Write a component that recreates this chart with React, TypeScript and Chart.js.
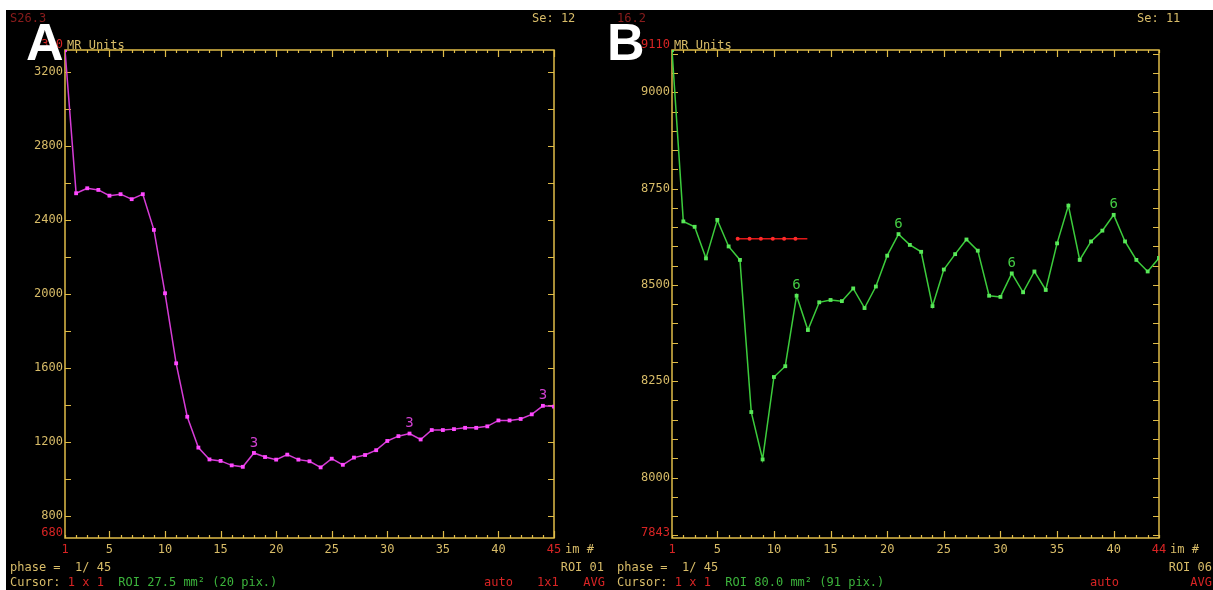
import React, { useEffect, useRef } from "react";
import { Chart, registerables } from "chart.js";

Chart.register(...registerables);

// ---------- data ----------
const imagesA = [1, 2, 3, 4, 5, 6, 7, 8, 9, 10, 11, 12, 13, 14, 15, 16, 17, 18, 19, 20, 21, 22, 23, 24, 25, 26, 27, 28, 29, 30, 31, 32, 33, 34, 35, 36, 37, 38, 39, 40, 41, 42, 43, 44, 45];
const signalA = [3320, 2545, 2572, 2563, 2532, 2540, 2513, 2540, 2347, 2004, 1625, 1336, 1169, 1105, 1097, 1073, 1065, 1140, 1118, 1104, 1131, 1104, 1095, 1062, 1109, 1076, 1115, 1129, 1155, 1205, 1231, 1245, 1213, 1264, 1264, 1269, 1276, 1276, 1284, 1316, 1316, 1324, 1349, 1395, 1391];

const imagesB = [1, 2, 3, 4, 5, 6, 7, 8, 9, 10, 11, 12, 13, 14, 15, 16, 17, 18, 19, 20, 21, 22, 23, 24, 25, 26, 27, 28, 29, 30, 31, 32, 33, 34, 35, 36, 37, 38, 39, 40, 41, 42, 43, 44];
const signalB = [9110, 8665, 8651, 8569, 8669, 8600, 8565, 8170, 8047, 8261, 8289, 8472, 8383, 8455, 8461, 8458, 8491, 8440, 8496, 8576, 8632, 8604, 8586, 8445, 8540, 8580, 8618, 8589, 8472, 8469, 8530, 8481, 8535, 8487, 8608, 8706, 8565, 8613, 8641, 8682, 8613, 8565, 8535, 8570];

const refLineX = [6.8, 7.85, 8.85, 9.9, 10.9, 11.9, 12.95];
const refLineY = [8620, 8620, 8620, 8620, 8620, 8620, 8620];

const xTicksA = [1, 5, 10, 15, 20, 25, 30, 35, 40, 45];
const yTicksA = [800, 1200, 1600, 2000, 2400, 2800, 3200];
const rangeA = [680, 3320];
const markedA = [18, 32, 44];

const xTicksB = [1, 5, 10, 15, 20, 25, 30, 35, 40, 44];
const yTicksB = [8000, 8250, 8500, 8750, 9000];
const rangeB = [7843, 9110];
const markedB = [12, 21, 31, 40];

// ---------- styles ----------
const MONO = "'DejaVu Sans Mono', 'Liberation Mono', monospace";
const YELLOW = "#d8bc68";
const AXIS = "#e0bc48";
const RED = "#d82424";
const DIMRED = "#8a1c1c";
const GREEN_TXT = "#3cb43c";

type Txt = { t: string; x: number; y: number; c: string; align?: CanvasTextAlign };
type Seg = { t: string; c: string };

type PanelCfg = {
  left: number;
  width: number;
  axisW: number;
  padRight: number;
  xs: number[];
  ys: number[];
  lineColor: string;
  pointColor: string;
  xMax: number;
  yRange: number[];
  xTicks: number[];
  yTicks: number[];
  yMinor: number;
  marks: number[];
  markText: string;
  markColor: string;
  letter: string;
  letterX: number;
  topLabel: string;
  bottomLabel: string;
  texts: Txt[];
  cursorX: number;
  cursor: Seg[];
  extra?: any[];
};

function drawText(ctx: CanvasRenderingContext2D, t: string, x: number, y: number, c: string, align: CanvasTextAlign = "left", font = `12px ${MONO}`) {
  ctx.save();
  ctx.font = font;
  ctx.fillStyle = c;
  ctx.textAlign = align;
  ctx.textBaseline = "middle";
  ctx.fillText(t, x, y);
  ctx.restore();
}

function makePlugin(cfg: PanelCfg) {
  return {
    id: "mrFrame" + cfg.letter,
    beforeDatasetsDraw(chart: any) {
      const { ctx, chartArea } = chart;
      const { left, right, top, bottom } = chartArea;
      const xs = chart.scales.x;
      const ys = chart.scales.y;
      ctx.save();
      ctx.strokeStyle = AXIS;
      ctx.lineWidth = 1.5;
      ctx.strokeRect(left, top, right - left, bottom - top);
      ctx.lineWidth = 1.2;
      ctx.beginPath();
      for (let v = 1; v <= cfg.xMax; v++) {
        const px = Math.round(xs.getPixelForValue(v)) + 0.5;
        const len = v % 5 === 0 ? 7 : 3;
        ctx.moveTo(px, top);
        ctx.lineTo(px, top + len);
        ctx.moveTo(px, bottom);
        ctx.lineTo(px, bottom - len);
      }
      const y0 = Math.ceil(cfg.yRange[0] / cfg.yMinor) * cfg.yMinor;
      for (let v = y0; v <= cfg.yRange[1]; v += cfg.yMinor) {
        const py = Math.round(ys.getPixelForValue(v)) + 0.5;
        ctx.moveTo(left, py);
        ctx.lineTo(left + 6, py);
        ctx.moveTo(right, py);
        ctx.lineTo(right - 6, py);
      }
      ctx.stroke();
      ctx.restore();
    },
    afterDraw(chart: any) {
      const { ctx, chartArea } = chart;
      const { left, right, top, bottom } = chartArea;
      drawText(ctx, cfg.topLabel, left - 2, top - 5, RED, "right");
      drawText(ctx, cfg.bottomLabel, left - 2, bottom - 5, RED, "right");
      drawText(ctx, "MR Units", left + 2, top - 4, YELLOW);
      drawText(ctx, "im #", right + 11, bottom + 12, YELLOW);
      const meta = chart.getDatasetMeta(0);
      cfg.marks.forEach((idx) => {
        const el = meta.data[idx - 1];
        if (el) drawText(ctx, cfg.markText, el.x, el.y - 10, cfg.markColor, "center", `14px ${MONO}`);
      });
      cfg.texts.forEach((t) => drawText(ctx, t.t, t.x, t.y, t.c, t.align || "left"));
      ctx.save();
      ctx.font = `12px ${MONO}`;
      let cx = cfg.cursorX;
      cfg.cursor.forEach((s) => {
        drawText(ctx, s.t, cx, 573, s.c);
        cx += ctx.measureText(s.t).width;
      });
      ctx.restore();
      ctx.save();
      ctx.font = "bold 52px 'Liberation Sans', Arial, sans-serif";
      ctx.fillStyle = "#ffffff";
      ctx.textAlign = "left";
      ctx.textBaseline = "alphabetic";
      ctx.fillText(cfg.letter, cfg.letterX, 50);
      ctx.restore();
    },
  };
}

function Panel({ cfg }: { cfg: PanelCfg }) {
  const ref = useRef<HTMLCanvasElement>(null);
  useEffect(() => {
    const last = cfg.xTicks.length - 1;
    const chart = new Chart(ref.current as HTMLCanvasElement, {
      type: "line",
      data: {
        datasets: [
          {
            data: cfg.xs.map((x, i) => ({ x, y: cfg.ys[i] })),
            borderColor: cfg.lineColor,
            borderWidth: 1.5,
            pointStyle: "rect",
            pointRadius: 2.7,
            pointBorderWidth: 0,
            pointBackgroundColor: cfg.pointColor,
            tension: 0,
          },
          ...(cfg.extra || []),
        ],
      },
      options: {
        responsive: false,
        animation: false,
        devicePixelRatio: 1,
        events: [],
        layout: { padding: { top: 40, right: cfg.padRight, left: 0, bottom: 0 } },
        plugins: { legend: { display: false }, tooltip: { enabled: false } },
        scales: {
          x: {
            type: "linear",
            min: 1,
            max: cfg.xMax,
            grid: { display: false, drawTicks: false },
            border: { display: false },
            afterBuildTicks: (s: any) => {
              s.ticks = cfg.xTicks.map((v) => ({ value: v }));
            },
            afterFit: (s: any) => {
              s.height = 52;
            },
            ticks: {
              autoSkip: false,
              maxRotation: 0,
              padding: 5,
              font: { family: MONO, size: 12 },
              color: (c: any) => (c.index === 0 || c.index === last ? RED : YELLOW),
              callback: (v: any) => String(v),
            },
          },
          y: {
            type: "linear",
            position: "left",
            min: cfg.yRange[0],
            max: cfg.yRange[1],
            grid: { display: false, drawTicks: false },
            border: { display: false },
            afterBuildTicks: (s: any) => {
              s.ticks = cfg.yTicks.map((v) => ({ value: v }));
            },
            afterFit: (s: any) => {
              s.width = cfg.axisW;
            },
            ticks: {
              padding: 2,
              font: { family: MONO, size: 12 },
              color: YELLOW,
              callback: (v: any) => String(v),
            },
          },
        },
      },
      plugins: [makePlugin(cfg)],
    } as any);
    return () => chart.destroy();
  }, []);
  return (
    <div style={{ position: "absolute", left: cfg.left, top: 10, width: cfg.width, height: 580, background: "#000" }}>
      <canvas ref={ref} width={cfg.width} height={580} style={{ display: "block" }} />
    </div>
  );
}

const panelA: PanelCfg = {
  left: 6,
  width: 599,
  axisW: 59,
  padRight: 51,
  xs: imagesA,
  ys: signalA,
  lineColor: "#d63cd6",
  pointColor: "#ff48ff",
  xMax: 45,
  yRange: rangeA,
  xTicks: xTicksA,
  yTicks: yTicksA,
  yMinor: 200,
  marks: markedA,
  markText: "3",
  markColor: "#d040d0",
  letter: "A",
  letterX: 20,
  topLabel: String(rangeA[1]),
  bottomLabel: String(rangeA[0]),
  texts: [
    { t: "S26.3", x: 4, y: 9, c: DIMRED },
    { t: "Se: 12", x: 526, y: 9, c: YELLOW },
    { t: "phase =  1/ 45", x: 4, y: 558, c: YELLOW },
    { t: "ROI 01", x: 598, y: 558, c: YELLOW, align: "right" },
    { t: "auto", x: 478, y: 573, c: RED },
    { t: "1x1", x: 531, y: 573, c: RED },
    { t: "AVG", x: 599, y: 573, c: RED, align: "right" },
  ],
  cursorX: 4,
  cursor: [
    { t: "Cursor: ", c: YELLOW },
    { t: "1 x 1", c: RED },
    { t: "  ROI 27.5 mm² (20 pix.)", c: GREEN_TXT },
  ],
};

const panelB: PanelCfg = {
  left: 605,
  width: 608,
  axisW: 67,
  padRight: 54,
  xs: imagesB,
  ys: signalB,
  lineColor: "#3ccc3c",
  pointColor: "#58e858",
  xMax: 44,
  yRange: rangeB,
  xTicks: xTicksB,
  yTicks: yTicksB,
  yMinor: 50,
  marks: markedB,
  markText: "6",
  markColor: "#44cc44",
  letter: "B",
  letterX: 2,
  topLabel: String(rangeB[1]),
  bottomLabel: String(rangeB[0]),
  texts: [
    { t: "16.2", x: 12, y: 9, c: DIMRED },
    { t: "Se: 11", x: 532, y: 9, c: YELLOW },
    { t: "phase =  1/ 45", x: 12, y: 558, c: YELLOW },
    { t: "ROI 06", x: 607, y: 558, c: YELLOW, align: "right" },
    { t: "auto", x: 485, y: 573, c: RED },
    { t: "AVG", x: 607, y: 573, c: RED, align: "right" },
  ],
  cursorX: 12,
  cursor: [
    { t: "Cursor: ", c: YELLOW },
    { t: "1 x 1", c: RED },
    { t: "  ROI 80.0 mm² (91 pix.)", c: GREEN_TXT },
  ],
  extra: [
    {
      data: refLineX.map((x, i) => ({ x, y: refLineY[i] })),
      borderColor: "#e01818",
      borderWidth: 1.3,
      pointStyle: "circle",
      pointRadius: [2, 2, 2, 2, 2, 2, 0],
      pointBorderWidth: 0,
      pointBackgroundColor: "#ff2a2a",
      tension: 0,
    },
  ],
};

export default function App() {
  return (
    <div style={{ position: "absolute", left: 0, top: 0, width: 1213, height: 590, background: "#fff", overflow: "hidden" }}>
      <Panel cfg={panelA} />
      <Panel cfg={panelB} />
    </div>
  );
}
